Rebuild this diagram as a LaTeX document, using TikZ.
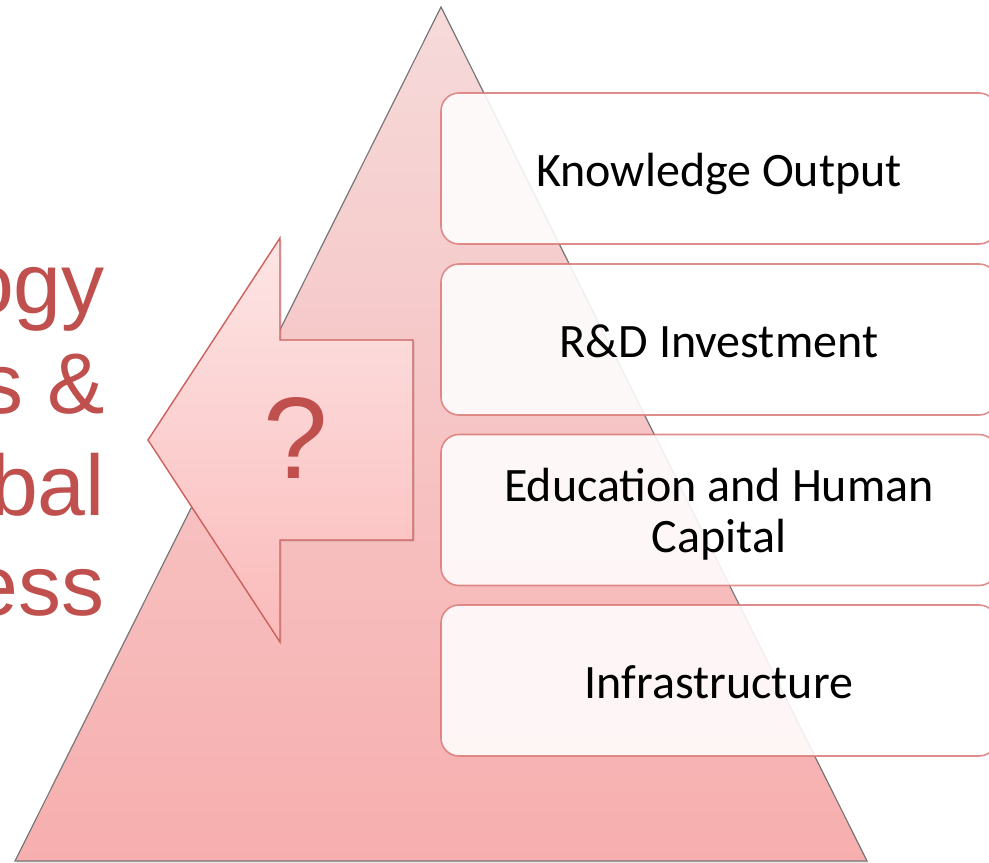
\documentclass[tikz,border=0pt]{standalone}
\usepackage{fontspec}
\setmainfont{Carlito}
\newfontfamily\arialf{Liberation Sans}
\usetikzlibrary{shadows}
\definecolor{redtxt}{RGB}{192,80,77}
\definecolor{tritop}{RGB}{246,218,218}
\definecolor{tribot}{RGB}{247,174,174}
\definecolor{arrtop}{RGB}{253,229,229}
\definecolor{arrbot}{RGB}{251,186,186}
\definecolor{arredge}{RGB}{205,95,92}
\definecolor{boxedge}{RGB}{218,122,120}
\definecolor{triedge}{RGB}{120,120,120}
\begin{document}
\begin{tikzpicture}[x=1pt,y=-1pt,
  pillarbox/.style={draw=boxedge, line width=1.6pt, draw opacity=0.85, fill=white, fill opacity=0.88, text opacity=1, rounded corners=18pt, minimum width=556pt, minimum height=151pt, inner sep=0pt, align=center, font=\fontsize{48}{51}\selectfont, text=black},
  pillar/.style={pillarbox, text height=36pt, text depth=0pt},
  sidetext/.style={anchor=base east, text=redtxt, font=\arialf\fontsize{86}{100}\selectfont, inner sep=0pt},
  softshadow/.style={drop shadow={shadow xshift=1.5pt, shadow yshift=-1.5pt, opacity=0.25}}
]
\useasboundingbox (0,0) rectangle (989,863);
% pyramid
\shade[top color=tritop, bottom color=tribot, draw=triedge, line width=1.2pt, softshadow]
  (441,7) -- (867,861) -- (15,861) -- cycle;
% left text (cut off by the page edge, as in the reference)
\node[sidetext] (l1) at (105,313) {ogy};
\node[sidetext] (l2) at (105,413) {s \&};
\node[sidetext] (l3) at (105,515) {bal};
\node[sidetext] (l4) at (105,615) {ess};
% block arrow
\shade[top color=arrtop, bottom color=arrbot, draw=arredge, line width=1.4pt, softshadow]
  (148,440) -- (280,238) -- (280,340) -- (413,340) -- (413,540) -- (280,540) -- (280,642) -- cycle;
\node[text=redtxt, font=\arialf\fontsize{116}{116}\selectfont, inner sep=0pt] (q) at (296,438) {?};
% pillars
\node[pillar] (ko) at (719,168.5) {Knowledge Output};
\node[pillar] (rd) at (719,339.5) {R\&D Investment};
\node[pillarbox] (edu) at (719,510) {\raisebox{0pt}[41pt]{Education and Human}\\Capital};
\node[pillar] (inf) at (719,680.5) {Infrastructure};
\end{tikzpicture}
\end{document}
